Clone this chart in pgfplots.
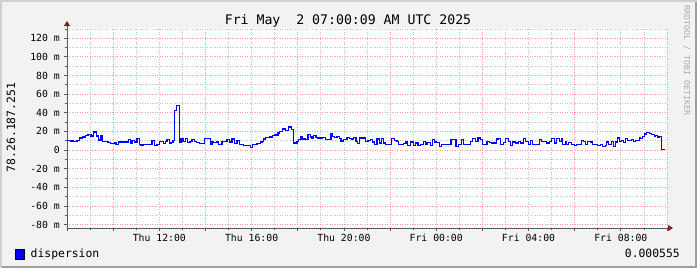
\documentclass[border=0pt]{standalone}
\usepackage{fontspec}
\usepackage{pgfplots}
\pgfplotsset{compat=1.18}
\usetikzlibrary{arrows.meta}
\newfontfamily\rrd{DejaVu Sans Mono}
\definecolor{bg}{HTML}{F2F2F2}
\definecolor{shadeA}{HTML}{CFCFCF}
\definecolor{shadeB}{HTML}{9E9E9E}
\definecolor{gridc}{HTML}{C4C4C4}
\definecolor{mgridc}{HTML}{F0A0A0}
\definecolor{arrowc}{HTML}{801F1F}
\definecolor{axisc}{HTML}{5A5A5A}
\definecolor{wmark}{HTML}{ABABAB}
\begin{document}
\begin{tikzpicture}[x=1pt,y=1pt]
\fill[bg] (0,0) rectangle (697,268);
\fill[shadeA] (0,0) rectangle (2,268);
\fill[shadeA] (0,266) rectangle (697,268);
\fill[shadeB] (695,0) rectangle (697,266);
\fill[shadeB] (2,0) rectangle (697,2);
\begin{axis}[
  at={(67pt,40pt)}, anchor=south west,
  width=600pt, height=200pt, scale only axis,
  xmin=0, xmax=26, ymin=-83.7, ymax=131,
  axis background/.style={fill=white},
  axis x line=bottom, axis y line=left,
  every outer x axis line/.append style={draw=axisc, line width=0.9pt, shorten >=-6pt, -{Triangle[color=arrowc,length=5pt,width=6pt]}},
  every outer y axis line/.append style={draw=axisc, line width=0.9pt, shorten >=-7pt, shorten <=-3pt, -{Triangle[color=arrowc,length=5pt,width=6pt]}},
  xtick={4,8,12,16,20,24},
  xticklabels={Thu 12:00,Thu 16:00,Thu 20:00,Fri 00:00,Fri 04:00,Fri 08:00},
  minor xtick={0,1,...,26},
  extra x ticks={2,6,10,14,18,22,26},
  extra x tick labels={},
  extra x tick style={grid=major},
  ytick={-80,-60,-40,-20,0,20,40,60,80,100,120},
  yticklabels={-80 m,-60 m,-40 m,-20 m,0,20 m,40 m,60 m,80 m,100 m,120 m},
  minor ytick={-80,-70,...,130},
  ymajorgrids, yminorgrids, xminorgrids,
  minor grid style={gridc, line width=0.8pt, dash pattern=on 1pt off 1.5pt},
  major grid style={mgridc, line width=0.8pt, dash pattern=on 1pt off 1.5pt},
  tick align=outside, major tick length=3pt, minor tick length=2pt,
  tick style={draw=axisc, line width=0.8pt},
  ticklabel style={font=\rrd\fontsize{9.8}{10}\selectfont, text=black},
  yticklabel style={anchor=east, inner sep=0pt, xshift=-4pt},
  xticklabel style={anchor=north, inner sep=0pt, yshift=-3pt},
]
\addplot[const plot, color=blue, line width=1.1pt] coordinates {
(0,10.4) (0.144,9.3) (0.217,10.4) (0.289,8.9) (0.433,10.4) (0.534,12.9) (0.679,14.0) (0.794,15.4) (0.91,16.5) (1.04,15.1) (1.155,19.4) (1.27,15.1) (1.372,10.8) (1.473,15.1) (1.545,9.3) (1.776,7.9) (1.878,6.8) (2.065,8.2) (2.123,6.4) (2.239,8.6) (2.672,10.9) (2.744,7.5) (2.816,10.4) (2.917,8.6) (3.033,12.2) (3.134,5.7) (3.206,4.6) (3.293,6.4) (3.394,5.7) (3.683,10.0) (3.798,4.6) (3.9,6.4) (4.015,9.3)
(4.116,9.3) (4.188,6.8) (4.26,9.3) (4.333,10.9) (4.434,6.8) (4.506,8.2) (4.593,10.4) (4.665,42.3) (4.737,47.7) (4.867,8.2) (4.939,12.2) (5.026,9.3) (5.127,12.2) (5.228,8.2) (5.329,9.3) (5.416,10.9) (5.517,8.9) (5.618,8.2) (5.734,7.1) (5.95,12.2) (6.023,12.5) (6.21,6.4) (6.283,9.3) (6.355,8.2) (6.5,8.6) (6.572,6.4) (6.716,9.3) (6.788,8.9) (6.933,11.4) (7.034,8.6) (7.149,11.8) (7.25,7.1) (7.366,10.4) (7.467,5.7) (7.582,6.4) (7.654,5.3) (7.943,2.8) (8.044,5.7) (8.232,6.8) (8.377,8.6)
(8.449,9.3) (8.521,11.8) (8.593,13.6) (8.767,14.0) (8.911,15.8) (8.983,16.1) (9.142,18.3) (9.214,19.7) (9.344,22.6) (9.46,20.8) (9.604,24.7) (9.72,22.2) (9.821,7.1) (9.864,7.5) (9.965,9.3) (10.038,10.9) (10.139,14.0) (10.211,11.8) (10.327,11.4) (10.442,16.5) (10.543,14.0) (10.615,12.9) (10.688,15.8) (10.789,13.2) (10.875,12.9) (11.078,13.2) (11.193,10.9) (11.439,17.5) (11.511,14.7) (11.598,13.6) (11.699,14.7) (11.8,12.2) (11.872,9.7) (11.988,10.9) (12.132,13.6) (12.233,12.5) (12.32,11.8) (12.421,13.6) (12.522,9.3) (12.594,6.8) (12.681,12.9)
(12.782,12.9) (12.926,9.3) (13.042,10.4) (13.143,10.9) (13.244,8.6) (13.33,5.7) (13.432,11.8) (13.533,7.5) (13.619,12.2) (13.72,7.5) (13.821,6.4) (14.081,12.2) (14.182,10.4) (14.298,9.3) (14.37,5.7) (14.486,6.4) (14.587,7.1) (14.688,9.3) (14.774,5.0) (14.876,8.6) (14.948,9.3) (15.02,4.6) (15.092,7.5) (15.208,5.0) (15.309,6.4) (15.453,9.3) (15.526,6.4) (15.598,8.2) (15.742,4.6) (15.843,10.9) (15.93,8.6) (16.031,8.2) (16.132,3.9) (16.233,5.7) (16.349,6.4) (16.638,10.9) (16.855,3.9) (16.956,6.4)
(17.114,10.9) (17.187,5.7) (17.403,6.4) (17.504,9.3) (17.591,12.2) (17.721,9.3) (17.808,12.9) (17.909,10.9) (18.01,6.4) (18.097,5.7) (18.198,9.3) (18.299,8.2) (18.386,7.5) (18.631,11.8) (18.703,12.2) (18.804,6.4) (18.92,8.2) (19.021,12.2) (19.137,9.3) (19.209,5.0) (19.31,8.6) (19.425,7.5) (19.57,9.3) (19.671,7.5) (19.786,12.2) (19.887,9.3) (20.003,5.7) (20.104,10.4) (20.176,6.4) (20.292,5.7) (20.465,10.9) (20.581,9.3) (20.797,7.5) (20.898,9.3) (21.014,12.2) (21.13,7.5) (21.231,12.2) (21.332,9.3) (21.418,12.2)
(21.49,5.7) (21.592,9.3) (21.664,6.4) (21.736,8.2) (21.88,5.7) (21.981,5.0) (22.097,5.7) (22.285,10.0) (22.386,9.3) (22.487,6.4) (22.573,9.3) (22.675,8.6) (22.776,5.7) (22.891,6.4) (22.992,5.0) (23.108,5.7) (23.209,3.9) (23.325,5.0) (23.397,8.6) (23.469,6.4) (23.541,5.7) (23.614,9.3) (23.686,3.9) (23.758,8.6) (23.859,12.9) (23.931,9.3) (24.018,10.4) (24.119,8.2) (24.22,12.2) (24.307,10.4) (24.408,10.0) (24.48,10.9) (24.552,9.3) (24.653,10.0) (24.798,13.6) (24.87,12.2) (24.942,14.7) (25.014,17.2) (25.13,19.0) (25.231,17.5) (25.347,16.5) (25.448,15.1) (25.52,15.8) (25.592,14.0) (25.664,14.7) (25.78,0.6) (25.924,0.6)
};
\end{axis}
\node[anchor=base, font=\rrd\fontsize{13.2}{14}\selectfont] at (348,243) {Fri May\ \ 2 07:00:09 AM UTC 2025};
\node[rotate=90, font=\rrd\fontsize{11.4}{12}\selectfont] at (11,140.5) {78.26.187.251};
\node[rotate=-90, anchor=base west, font=\rrd\fontsize{8.3}{9}\selectfont, text=wmark, inner sep=0pt] at (684,263) {RRDTOOL / TOBI OETIKER};
\fill[blue] (15,8.5) rectangle (24,18.5);
\draw[black, line width=0.8pt] (15,8.5) rectangle (24,18.5);
\node[anchor=base west, inner sep=0pt, font=\rrd\fontsize{11.4}{12}\selectfont] at (30.5,10.5) {dispersion};
\node[anchor=base east, inner sep=0pt, font=\rrd\fontsize{11.4}{12}\selectfont] at (680,10.5) {0.000555};
\end{tikzpicture}
\end{document}
